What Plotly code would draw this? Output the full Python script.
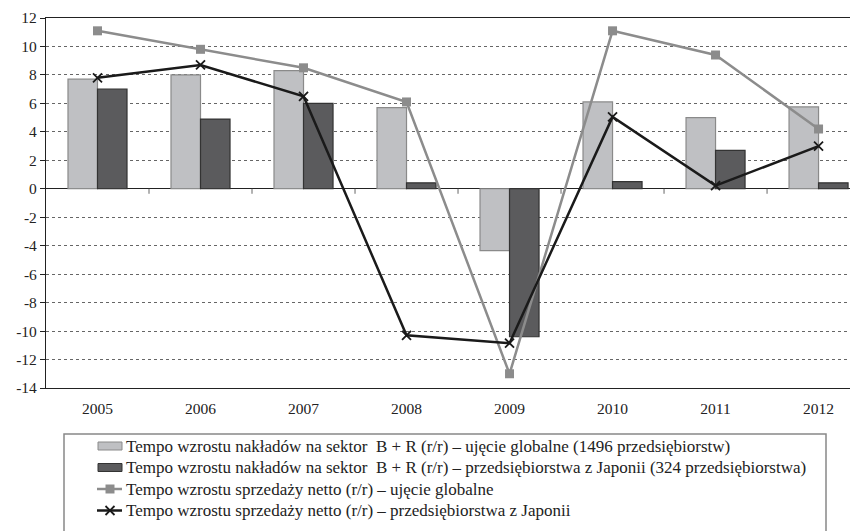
import plotly.graph_objects as go

years = ["2005", "2006", "2007", "2008", "2009", "2010", "2011", "2012"]
rd_global = [7.7, 8.0, 8.3, 5.7, -4.35, 6.1, 5.0, 5.75]
rd_japan = [7.0, 4.9, 6.0, 0.42, -10.4, 0.5, 2.7, 0.42]
sales_global = [11.1, 9.8, 8.5, 6.1, -13.0, 11.1, 9.4, 4.2]
sales_japan = [7.8, 8.7, 6.5, -10.3, -10.85, 5.05, 0.22, 3.0]
y_ticks = list(range(-14, 13, 2))

names = [
    "Tempo wzrostu nakładów na sektor  B + R (r/r) – ujęcie globalne (1496 przedsiębiorstw)",
    "Tempo wzrostu nakładów na sektor  B + R (r/r) – przedsiębiorstwa z Japonii (324 przedsiębiorstwa)",
    "Tempo wzrostu sprzedaży netto (r/r) – ujęcie globalne",
    "Tempo wzrostu sprzedaży netto (r/r) – przedsiębiorstwa z Japonii",
]

FONT = "Liberation Serif"
C_LIGHT, C_LIGHT_EDGE = "#bfc0c3", "#8a8a8a"
C_DARK, C_DARK_EDGE = "#5b5b5d", "#333333"
C_GREY = "#8c8c8c"
C_BLACK = "#1a1a1a"

# page pixel geometry (the page body adds an 8px offset)
OFF = 8
PLOT_L, PLOT_R, PLOT_T, PLOT_B = 46, 858, 18, 388
FIG_W, FIG_H = 858 - OFF, 531 - OFF


def px(x):
    return (x - PLOT_L) / (PLOT_R - PLOT_L)


def py(y):
    return (PLOT_B - y) / (PLOT_B - PLOT_T)


fig = go.Figure()
fig.add_trace(go.Bar(x=years, y=rd_global, name=names[0],
                     marker=dict(color=C_LIGHT, line=dict(color=C_LIGHT_EDGE, width=1.2))))
fig.add_trace(go.Bar(x=years, y=rd_japan, name=names[1],
                     marker=dict(color=C_DARK, line=dict(color=C_DARK_EDGE, width=1.2))))
fig.add_trace(go.Scatter(x=years, y=sales_global, name=names[2], mode="lines+markers",
                         line=dict(color=C_GREY, width=2.5),
                         marker=dict(symbol="square", size=9, color=C_GREY)))
fig.add_trace(go.Scatter(x=years, y=sales_japan, name=names[3], mode="lines+markers",
                         line=dict(color=C_BLACK, width=2.5),
                         marker=dict(symbol="x-thin", size=9, color=C_BLACK,
                                     line=dict(color=C_BLACK, width=1.8))))

shapes = []
# category boundary ticks on the zero line
for i in range(len(years) - 1):
    shapes.append(dict(type="line", xref="x", yref="y", x0=i + 0.5, x1=i + 0.5,
                       ysizemode="pixel", yanchor=0, y0=0, y1=-5,
                       line=dict(color="#666666", width=1)))

# legend box (manual legend)
shapes.append(dict(type="rect", xref="paper", yref="paper",
                   x0=px(64), x1=px(826), y0=py(434), y1=py(545),
                   line=dict(color="#888888", width=1.5), fillcolor="rgba(0,0,0,0)"))
rows = [446, 467.5, 489, 510.5]
sym_x0, sym_x1 = 98, 122
annotations = []
# bar symbols
for r, (fc, ec) in zip(rows[:2], [(C_LIGHT, C_LIGHT_EDGE), (C_DARK, C_DARK_EDGE)]):
    shapes.append(dict(type="rect", xref="paper", yref="paper",
                       x0=px(sym_x0), x1=px(sym_x1), y0=py(r - 4), y1=py(r + 4),
                       fillcolor=fc, line=dict(color=ec, width=1)))
# line symbols
for r, c in zip(rows[2:], [C_GREY, C_BLACK]):
    shapes.append(dict(type="line", xref="paper", yref="paper",
                       x0=px(sym_x0 - 1), x1=px(sym_x1), y0=py(r), y1=py(r),
                       line=dict(color=c, width=2.5)))
cx = (sym_x0 + sym_x1) / 2
shapes.append(dict(type="rect", xref="paper", yref="paper",
                   x0=px(cx - 4.5), x1=px(cx + 4.5), y0=py(rows[2] - 4.5), y1=py(rows[2] + 4.5),
                   fillcolor=C_GREY, line=dict(width=0)))
for d in (1, -1):
    shapes.append(dict(type="line", xref="paper", yref="paper",
                       x0=px(cx - 4.5), x1=px(cx + 4.5),
                       y0=py(rows[3] - 4.5 * d), y1=py(rows[3] + 4.5 * d),
                       line=dict(color=C_BLACK, width=1.8)))
for r, n in zip(rows, names):
    annotations.append(dict(xref="paper", yref="paper", x=px(124), y=py(r),
                            xanchor="left", yanchor="middle", showarrow=False,
                            text=n, font=dict(family=FONT, size=17, color="#222222")))

fig.update_layout(
    width=FIG_W, height=FIG_H,
    margin=dict(l=PLOT_L - OFF, r=0, t=PLOT_T - OFF, b=FIG_H - (PLOT_B - OFF), autoexpand=False),
    paper_bgcolor="white", plot_bgcolor="white",
    font=dict(family=FONT, size=15.5, color="#222222"),
    barmode="group", bargap=0.427, bargroupgap=0,
    shapes=shapes, annotations=annotations,
    showlegend=False,
)
fig.update_xaxes(
    type="category", range=[-0.5, 7.383],
    showline=True, linecolor="#222222", linewidth=1.2, mirror=True,
    ticks="", showgrid=False, ticklabelstandoff=6,
    tickfont=dict(family=FONT, size=15.5, color="#222222"),
)
fig.update_yaxes(
    range=[-14, 12], tickvals=y_ticks, ticktext=[str(v) for v in y_ticks],
    showline=True, linecolor="#222222", linewidth=1.2, mirror=False,
    ticks="outside", ticklen=5, tickcolor="#222222",
    showgrid=True, gridcolor="#666666", griddash="dot", gridwidth=1,
    zeroline=True, zerolinecolor="#222222", zerolinewidth=1.2,
    tickfont=dict(family=FONT, size=15.5, color="#222222"),
)

fig.write_html("out.html")
